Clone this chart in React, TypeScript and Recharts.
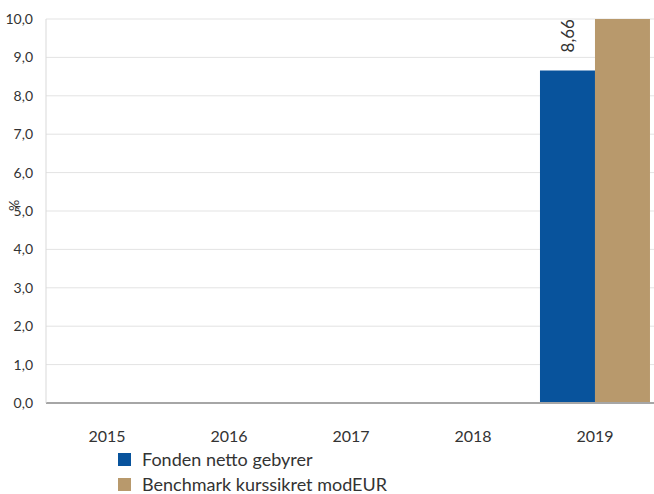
import React from 'react';
import { BarChart, Bar, XAxis, YAxis, CartesianGrid, Legend, LabelList, Label } from 'recharts';

const years = ['2015', '2016', '2017', '2018', '2019'];
const fondenNetto: (number | null)[] = [null, null, null, null, 8.66];
const benchmark: (number | null)[] = [null, null, null, null, 10.0];
const yTicks = [0, 1, 2, 3, 4, 5, 6, 7, 8, 9, 10];
const seriesNames = ['Fonden netto gebyrer', 'Benchmark kurssikret modEUR'];
const colors = ['#08539c', '#b8996c'];

const data = years.map((y, i) => ({ year: y, fonden: fondenNetto[i], bench: benchmark[i] }));

const FONT = 'Lato, "Open Sans", sans-serif';
const fmt = (v: number) => v.toFixed(1).replace('.', ',');

const RotLabel = (props: any) => {
  const { x, y, width, value } = props;
  if (value == null) return null;
  const cx = x + width / 2;
  const ty = y - 18;
  return (
    <text
      x={cx}
      y={ty}
      transform={`rotate(-90, ${cx}, ${ty})`}
      textAnchor="start"
      dominantBaseline="central"
      fontSize={17}
      fontFamily={FONT}
      fill="#333"
    >
      {String(value).replace('.', ',')}
    </text>
  );
};

const LegendContent = () => (
  <div style={{ paddingLeft: 118, paddingTop: 2, fontFamily: FONT, fontSize: 18, color: '#333', height: 48, boxSizing: 'border-box' }}>
    {seriesNames.map((n, i) => (
      <div key={n} style={{ display: 'flex', alignItems: 'center', height: i === 0 ? 26 : 24 }}>
        <span style={{ display: 'inline-block', width: 13, height: 13, background: colors[i], marginRight: 11 }} />
        <span style={{ lineHeight: '18px' }}>{n}</span>
      </div>
    ))}
  </div>
);

export default function App() {
  return (
    <div style={{ position: 'absolute', left: 0, top: 0, width: 654, height: 494, background: '#fff', overflow: 'hidden' }}>
      <BarChart
        width={656}
        height={494}
        data={data}
        margin={{ top: 19, right: 0, left: 0, bottom: 0 }}
        barCategoryGap="4.9%"
        barGap={0}
      >
        <CartesianGrid vertical={false} stroke="#e3e3e3" />
        <XAxis
          dataKey="year"
          tickLine={false}
          axisLine={{ stroke: '#a6a6a6', strokeWidth: 2 }}
          height={41}
          tickMargin={22}
          tick={{ fontSize: 16, fill: '#333', fontFamily: FONT }}
        />
        <YAxis
          domain={[0, 10]}
          ticks={yTicks}
          allowDataOverflow
          width={46}
          tickLine={false}
          axisLine={{ stroke: '#d9d9d9' }}
          tickFormatter={fmt}
          tickMargin={7}
          tick={{ fontSize: 14, fill: '#333', fontFamily: FONT }}
        >
          <Label value="%" angle={-90} position="insideLeft" offset={14} style={{ fontSize: 14, fill: '#333', fontFamily: FONT }} />
        </YAxis>
        <Legend verticalAlign="bottom" align="left" content={<LegendContent />} wrapperStyle={{ left: 0, bottom: 0, width: 654, height: 50 }} />
        <Bar dataKey="fonden" name={seriesNames[0]} fill={colors[0]} isAnimationActive={false}>
          <LabelList dataKey="fonden" content={<RotLabel />} />
        </Bar>
        <Bar dataKey="bench" name={seriesNames[1]} fill={colors[1]} isAnimationActive={false} />
      </BarChart>
    </div>
  );
}
